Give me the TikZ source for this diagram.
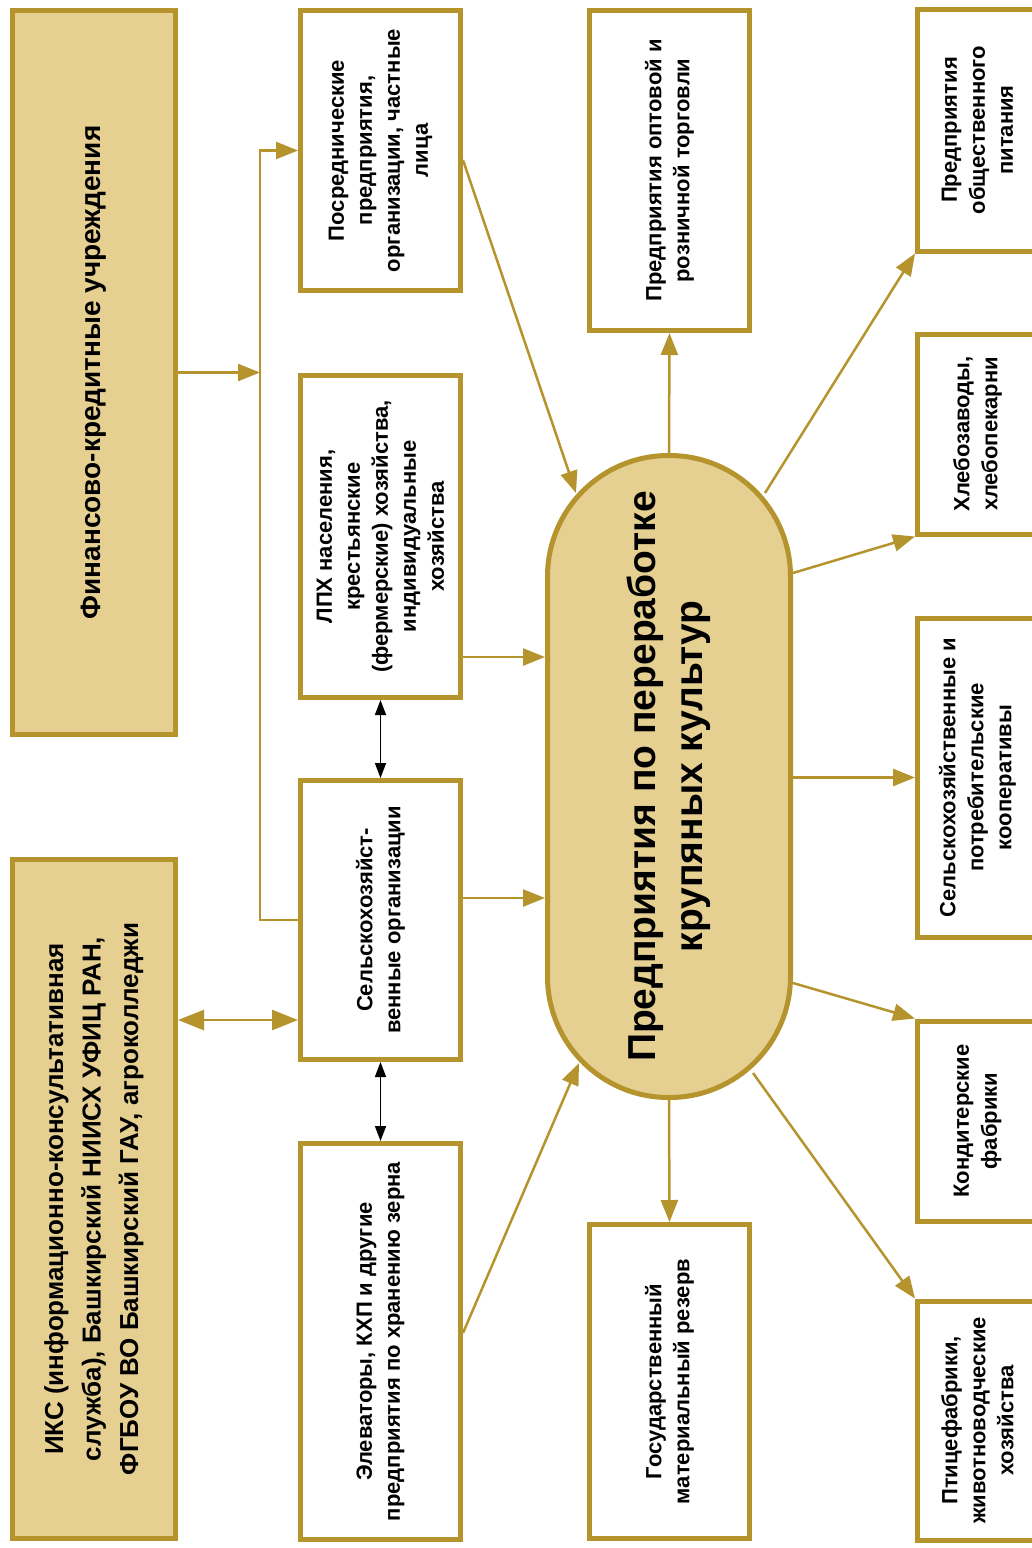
\documentclass[tikz,border=0pt]{standalone}
\usepackage{fontspec}
\setmainfont{Liberation Sans}
\usepackage{graphicx}
\usetikzlibrary{arrows.meta,calc}
\definecolor{gold}{RGB}{181,148,46}
\definecolor{tanfill}{RGB}{230,208,145}
\newcommand{\vt}[4]{\rotatebox{90}{\parbox{#1}{\centering\fontsize{#2}{#3}\selectfont\bfseries #4}}}
\begin{document}
\begin{tikzpicture}[x=1pt,y=-1pt,
  box/.style={draw=gold, line width=5pt, fill=white, inner sep=0pt, rectangle},
  tbox/.style={box, fill=tanfill},
  garrow/.style={draw=gold, line width=2.5pt, -{Triangle[length=22pt,width=17pt]}},
  gdouble/.style={draw=gold, line width=2.5pt, {Triangle[length=26pt,width=20pt]}-{Triangle[length=26pt,width=20pt]}},
  bdouble/.style={draw=black, line width=1.6pt, {Triangle[length=15pt,width=11pt]}-{Triangle[length=15pt,width=11pt]}}]
\useasboundingbox (0,0) rectangle (1032,1548);
\fill[white] (0,0) rectangle (1032,1548);
\clip (0,0) rectangle (1032,1548);

% left column
\node[tbox, minimum width=163pt, minimum height=724pt] (fin) at (94,372.5)
  {\vt{700pt}{28}{34}{Финансово-кредитные учреждения}};
\node[tbox, minimum width=163pt, minimum height=679pt] (iks) at (94,1199)
  {\vt{650pt}{26}{37.5}{ИКС (информационно-консультативная\\служба), Башкирский НИИСХ УФИЦ РАН,\\ФГБОУ ВО Башкирский ГАУ, агроколледжи}};

% second column
\node[box, minimum width=160pt, minimum height=280pt] (posred) at (380.5,150.5)
  {\vt{268pt}{22}{28}{Посреднические\\предприятия,\\организации, частные\\лица}};
\node[box, minimum width=160pt, minimum height=322pt] (lpx) at (380.5,536.5)
  {\vt{310pt}{22}{28}{ЛПХ населения,\\крестьянские\\(фермерские) хозяйства,\\индивидуальные\\хозяйства}};
\node[box, minimum width=160pt, minimum height=279pt] (selkh) at (380.5,920)
  {\vt{268pt}{22}{28}{Сельскохозяйст-\\венные организации}};
\node[box, minimum width=160pt, minimum height=396pt] (elev) at (380.5,1341.5)
  {\vt{385pt}{22}{28}{Элеваторы, КХП и другие\\предприятия по хранению зерна}};

% centre
\node[tbox, rounded corners=121pt, minimum width=243pt, minimum height=642pt] (ctr) at (669,776.5)
  {\vt{610pt}{39}{47}{Предприятия по переработке\\крупяных культур}};

% third column
\node[box, minimum width=160pt, minimum height=320pt] (opt) at (669.5,170.5)
  {\vt{305pt}{22}{28}{Предприятия оптовой и\\розничной торговли}};
\node[box, minimum width=160pt, minimum height=314pt] (gos) at (669.5,1381.5)
  {\vt{300pt}{22}{28}{Государственный\\материальный резерв}};

% right column
\node[box, minimum width=120pt, minimum height=242pt] (obsh) at (977.5,130)
  {\vt{230pt}{22}{28}{Предприятия\\общественного\\питания}};
\node[box, minimum width=120pt, minimum height=200pt] (xleb) at (977.5,434)
  {\vt{190pt}{22}{28}{Хлебозаводы,\\хлебопекарни}};
\node[box, minimum width=120pt, minimum height=319pt] (coop) at (977.5,777.5)
  {\vt{305pt}{22}{28}{Сельскохозяйственные и\\потребительские\\кооперативы}};
\node[box, minimum width=120pt, minimum height=200pt] (kond) at (977.5,1121)
  {\vt{190pt}{22}{28}{Кондитерские\\фабрики}};
\node[box, minimum width=120pt, minimum height=239pt] (ptic) at (977.5,1420.5)
  {\vt{228pt}{22}{28}{Птицефабрики,\\животноводческие\\хозяйства}};

% helper coordinates
\coordinate (trunk) at (260,500);
\coordinate (lvlA) at (0,1020);
\coordinate (lvlB) at (0,657);
\coordinate (lvlC) at (0,898);
\coordinate (lvlD) at (0,160);
\coordinate (lvlE) at (0,1333);

% finance branch
\draw[garrow] (fin.east) -- (fin.east -| trunk);
\draw[garrow] (selkh.west) -- (selkh.west -| trunk) |- (posred.west);

% consulting
\draw[gdouble] (iks.east |- lvlA) -- (selkh.west |- lvlA);

% black links
\draw[bdouble] (lpx.south) -- (selkh.north);
\draw[bdouble] (selkh.south) -- (elev.north);

% into centre
\draw[garrow] (posred.east |- lvlD) -- ($(ctr.center)+(-93,-283.5)$);
\draw[garrow] (lpx.east |- lvlB) -- (ctr.west |- lvlB);
\draw[garrow] (selkh.east |- lvlC) -- (ctr.west |- lvlC);
\draw[garrow] (elev.east |- lvlE) -- ($(ctr.center)+(-90,286.5)$);

% out of centre
\draw[garrow] (ctr.north) -- (opt.south);
\draw[garrow] (ctr.south) -- (gos.north);
\draw[garrow] ($(ctr.center)+(96,-283.5)$) -- (obsh.south west);
\draw[garrow] ($(ctr.east)+(0,-203.5)$) -- (xleb.south west);
\draw[garrow] (coop.west -| ctr.east) -- (coop.west);
\draw[garrow] ($(ctr.east)+(0,206.5)$) -- (kond.north west);
\draw[garrow] ($(ctr.center)+(84,296.5)$) -- (ptic.north west);
\end{tikzpicture}
\end{document}
